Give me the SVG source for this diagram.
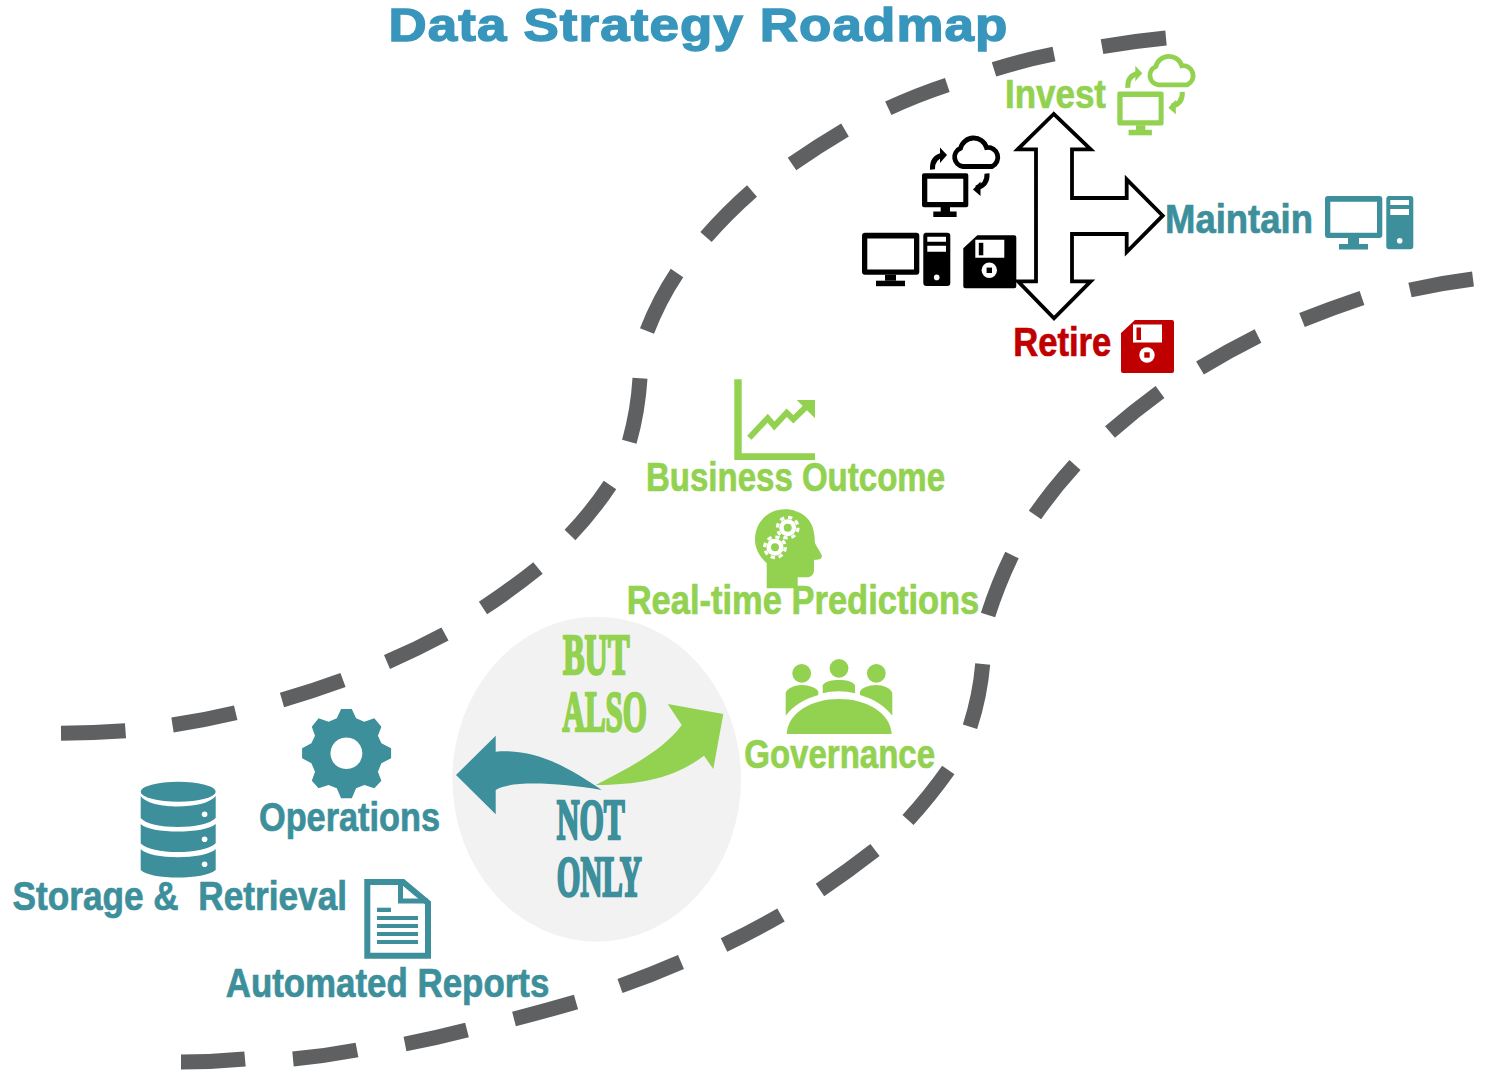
<svg xmlns="http://www.w3.org/2000/svg" width="1489" height="1074" viewBox="0 0 1489 1074">
<style>
.road{fill:none;stroke:#5f6062;stroke-width:15}
.lbl{font-family:"Liberation Sans Narrow","Liberation Sans",sans-serif;font-weight:700;font-size:40px;white-space:pre}
.fat{font-family:"Liberation Serif",serif;font-weight:700;font-size:56px;stroke-width:2.600px}
.teal{fill:#3c8f9b;stroke:#3c8f9b}
.green{fill:#92d250;stroke:#92d250}
.red{fill:#c00000;stroke:#c00000}
.lbl.teal,.lbl.green,.lbl.red{stroke-width:.7px}
</style>
<defs>
<g id="pc">
<path fill-rule="evenodd" d="M3,0H54.3a3,3 0 0 1 3,3V39a3,3 0 0 1-3,3H3a3,3 0 0 1-3-3V3a3,3 0 0 1 3-3ZM5.3,5.7V36.7H52V5.7Z"/>
<rect x="23" y="42" width="11" height="6"/><rect x="14" y="48" width="29" height="5.5"/>
<path fill-rule="evenodd" d="M63.300,0H85.300a3,3 0 0 1 3,3V50.300a3,3 0 0 1-3,3H64.300a3,3 0 0 1-3-3V3a3,3 0 0 1 2-3ZM65.300,4V9H84V4ZM65.300,13V19H84V13Z"/>
<circle cx="74.700" cy="44.700" r="2.800" fill="#fff"/>
</g>
<g id="floppy">
<path fill-rule="evenodd" d="M14,0H51a2,2 0 0 1 2,2V51a2,2 0 0 1-2,2H2a2,2 0 0 1-2-2V13ZM12,4.500V22.500H41V4.500Z"/>
<rect x="15.500" y="7.500" width="4.500" height="12.500"/>
<circle cx="26" cy="35" r="7.700" fill="#fff"/>
<rect x="23.300" y="32.300" width="5.400" height="5.400"/>
</g>
<g id="cloudpc">
<path fill-rule="evenodd" d="M924,173.300H966.300a2,2 0 0 1 2,2V205.300a2,2 0 0 1-2,2H924a2,2 0 0 1-2-2V175.300a2,2 0 0 1 2-2ZM927.300,178.700V202H963.300V178.700Z"/>
<rect x="940.700" y="207" width="9.300" height="5"/><rect x="933.300" y="211.500" width="23.300" height="5.500"/>
<path fill="none" stroke-width="4.800" stroke="currentColor" d="M963,166.500A9.500,9.500 0 0 1 960.500,148.300A13.500,13.500 0 0 1 986.500,147.500A10,10 0 0 1 992,166.500Z"/>
<path fill="none" stroke-width="5" stroke="currentColor" d="M932.500,169.500C932,161 936,156.500 943,155"/>
<path d="M947,155L940,147.500V163Z"/>
<path fill="none" stroke-width="5" stroke="currentColor" d="M987,173.500C987.500,182 983,186.500 976,188"/>
<path d="M973,189.500L980.500,181.500V196Z"/>
</g>
<g id="gearw">
<circle r="8.500" fill="#fff"/>
<circle r="10.300" fill="none" stroke="#fff" stroke-width="3.200" stroke-dasharray="4.300 3.790"/>
<circle r="4" fill="#92d250"/>
</g>
</defs>

<g id="connectors">
<path class="road" d="M61,733.300Q94,733 125.500,730.700"/>
<path class="road" d="M172.500,725Q205,720 235.700,712.700"/>
<path class="road" d="M282,700Q313,691 343,680"/>
<path class="road" d="M387,662Q417,649 445,634"/>
<path class="road" d="M483,608Q512,589 538,568"/>
<path class="road" d="M570,535Q592,512 610,485"/>
<path class="road" d="M629.300,441.700Q638,411 640,378.300"/>
<path class="road" d="M647,331Q659,300 677,273"/>
<path class="road" d="M706,237Q727,213 752,191"/>
<path class="road" d="M792,164Q818,146 845,130"/>
<path class="road" d="M888.300,108.300Q917,95 947.300,85"/>
<path class="road" d="M994,69.300Q1024,60 1054,54"/>
<path class="road" d="M1102,46.700Q1134,41 1166,38"/>

<path class="road" d="M181,1062Q213,1062 245,1059"/>
<path class="road" d="M293,1059Q325,1056 357,1050"/>
<path class="road" d="M405,1044Q436,1038 467,1030"/>
<path class="road" d="M514,1019Q545,1011 576,1002"/>
<path class="road" d="M620,986Q651,975 681,962"/>
<path class="road" d="M724,945Q753,931 781,915"/>
<path class="road" d="M820,890Q848,871 875,850"/>
<path class="road" d="M908,820Q930,796 948.300,770"/>
<path class="road" d="M970,726.700Q980,696 982.700,664"/>
<path class="road" d="M988,615Q998,584 1012,555"/>
<path class="road" d="M1035,515Q1053,489 1075,465"/>
<path class="road" d="M1110,432Q1134,411 1160,392"/>
<path class="road" d="M1200,368Q1228,351 1258,336"/>
<path class="road" d="M1302,320Q1332,308 1362,298"/>
<path class="road" d="M1410,290Q1441,283 1473,279"/>
</g>

<g id="title"><text x="388.500" y="40.800" font-family="'Liberation Sans',sans-serif" font-weight="700" font-size="46.500" letter-spacing="1" fill="#3896bd" stroke="#3896bd" stroke-width="1.400" textLength="620" lengthAdjust="spacingAndGlyphs">Data Strategy Roadmap</text></g>

<g id="lifecycle-arrow"><path fill="#fff" stroke="#000" stroke-width="3.800" stroke-linejoin="miter" d="M1053.700,114L1017.700,149.300H1036V281.300H1018L1054,318.300L1090.700,281.300H1072V234H1126.700V252L1162.700,215.700L1126.700,179.300V198H1072V149.300H1090.700Z"/></g>

<g id="invest" color="#92d250" fill="#92d250">
<use href="#cloudpc" transform="translate(195.300,-81.700)"/>
<text class="lbl green" x="1005" y="107.700" textLength="101" lengthAdjust="spacingAndGlyphs">Invest</text>
</g>
<g id="current-state" color="#000" fill="#000">
<use href="#cloudpc"/>
<use href="#pc" x="862" y="232.700"/>
<use href="#floppy" x="963.300" y="235.300"/>
</g>
<g id="maintain" fill="#3c8f9b">
<use href="#pc" x="1325" y="196"/>
<text class="lbl teal" x="1165" y="233" textLength="148" lengthAdjust="spacingAndGlyphs">Maintain</text>
</g>
<g id="retire" fill="#c00000">
<use href="#floppy" x="1121" y="320"/>
<text class="lbl red" x="1013.300" y="356" textLength="98" lengthAdjust="spacingAndGlyphs">Retire</text>
</g>

<g id="business-outcome" fill="#92d250">
<path d="M734.300,379.300H741.700V453.300H815V460H734.300Z"/>
<path fill="none" stroke="#92d250" stroke-width="6" d="M749.300,437.700L767.700,418.300L774.300,426L786.700,412.700L793.300,419.300L808,405"/>
<path d="M796.700,400H815V418.300Z"/>
<text class="lbl green" x="646" y="491" textLength="299" lengthAdjust="spacingAndGlyphs">Business Outcome</text>
</g>

<g id="realtime-predictions" fill="#92d250">
<path d="M766.700,588.300V563.300C760,557 755,549 755,540C755,522 768,509.300 785,509.300C801,509.300 813,520 814,533.300C815,537 814.500,541 815,543.300L821.700,555C822.500,558 821,560 814,560V570C814,574.500 811,577.300 806.700,577.300H797.700V588.300Z"/>
<use href="#gearw" x="787.700" y="527.700"/>
<use href="#gearw" x="775" y="547.300"/>
<text class="lbl green" x="626.700" y="614.300" textLength="352.600" lengthAdjust="spacingAndGlyphs">Real-time Predictions</text>
</g>

<g id="governance" fill="#92d250">
<circle cx="801.700" cy="673.300" r="9.400"/><circle cx="839" cy="668.300" r="9.400"/><circle cx="876.300" cy="673.300" r="9.400"/>
<path d="M785.700,715.700V693C787,688 795,685 802,685C809,685 817,688 818.300,691.700V695C804,699 793,706 785.700,715.700Z"/>
<path d="M822.700,693.300V685C826,681 832,680 839,680C846,680 852,681 855,685V693.300C845,690.500 832,690.500 822.700,693.300Z"/>
<path d="M892.300,715.700V693C891,688 883,685 876,685C869,685 861,688 860,691.700V695C874,699 885,706 892.300,715.700Z"/>
<path d="M786.700,734C788,712 812,699 839,699C866,699 890,712 891.700,734Z"/>
<text class="lbl green" x="744.300" y="768" textLength="190.700" lengthAdjust="spacingAndGlyphs">Governance</text>
</g>

<g id="not-only-but-also">
<ellipse cx="596.700" cy="779.200" rx="144.300" ry="162.500" fill="#f2f2f2"/>
<path fill="#3c8f9b" d="M456,775L495.700,735.700V751.700C535,748 570,768 601.700,790C560,783 510,780 495.700,790V814.300Z"/>
<path fill="#92d250" d="M595.700,785C635,765 665,748 681.700,725L667.700,704L723.300,714L713.300,769L704,755.700C675,778 640,785 595.700,785Z"/>
<text class="fat green" x="563" y="673.500" textLength="66.500" lengthAdjust="spacingAndGlyphs">BUT</text>
<text class="fat green" x="562.500" y="731.200" textLength="84.500" lengthAdjust="spacingAndGlyphs">ALSO</text>
<text class="fat teal" x="556.800" y="838.500" textLength="68" lengthAdjust="spacingAndGlyphs">NOT</text>
<text class="fat teal" x="556.800" y="896.200" textLength="85" lengthAdjust="spacingAndGlyphs">ONLY</text>
</g>

<g id="operations" fill="#3c8f9b">
<path fill-rule="evenodd" d="M341.100,709H351.800L356.100,718.300L364.300,721.700L374.300,718.300L381.400,726.700L377.900,735.700L381.400,743.300L391.100,748.300V758.300L381.400,763.300L377.900,771.700L381.400,780.700L374.300,788.300L364.300,785L356.100,788.300L351.800,798.300H341.100L336.800,788.300L328.600,785L318.600,788.300L311.800,780.700L315,771.700L311.400,763.300L302.100,758.300V748.300L311.400,743.300L315,735.700L311.800,726.700L318.600,718.300L328.600,721.700L336.800,718.300ZM346.400,737.500a16,15.800 0 1 0 .01,0Z"/>
<text class="lbl teal" x="259" y="831" textLength="181" lengthAdjust="spacingAndGlyphs">Operations</text>
</g>

<g id="storage-retrieval" fill="#3c8f9b">
<ellipse cx="178.200" cy="791.700" rx="37.500" ry="10"/>
<path d="M140.700,796C150,810 205,810 215.700,796V818C205,830 150,830 140.700,818Z"/>
<path d="M140.700,824C150,834 205,834 215.700,824V843.300C205,855 150,855 140.700,843.300Z"/>
<path d="M140.700,849C150,860 205,860 215.700,849V870C205,880 150,880 140.700,870Z"/>
<g fill="#fff"><circle cx="204.600" cy="814.300" r="2.800"/><circle cx="204.600" cy="839.300" r="2.800"/><circle cx="204.600" cy="864.300" r="2.800"/></g>
<text class="lbl teal" x="12.500" y="910" textLength="334.500" lengthAdjust="spacingAndGlyphs">Storage &amp;  Retrieval</text>
</g>

<g id="automated-reports" fill="#3c8f9b">
<path fill="#fff" stroke="#3c8f9b" stroke-width="6" d="M367.300,882H403L428,903V955.700H367.300Z"/>
<path fill="none" stroke="#3c8f9b" stroke-width="5" d="M400.500,882V901H428"/>
<rect x="377" y="907.700" width="14" height="4.300"/><rect x="377" y="916" width="41" height="4"/><rect x="377" y="924" width="41" height="4"/><rect x="377" y="932" width="41" height="4"/><rect x="377" y="940" width="41" height="4"/>
<text class="lbl teal" x="225.700" y="996.700" textLength="323.600" lengthAdjust="spacingAndGlyphs">Automated Reports</text>
</g>
</svg>
